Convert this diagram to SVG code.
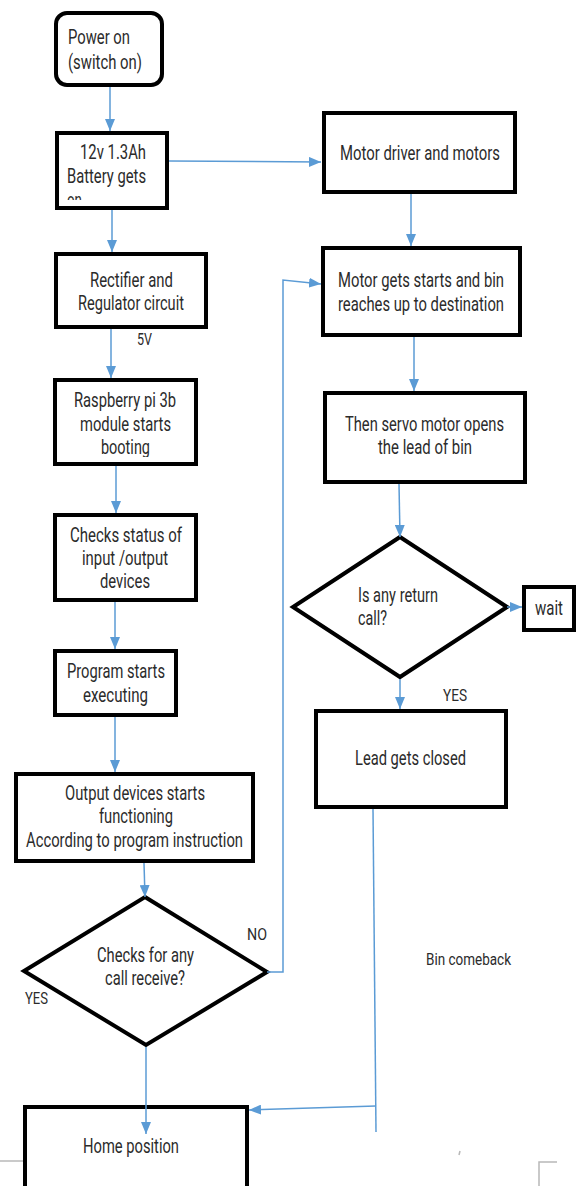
<svg xmlns="http://www.w3.org/2000/svg" width="581" height="1186" viewBox="0 0 581 1186">
<style>
.box{fill:#fff;stroke:#000;stroke-width:4}
.t{font-family:Roboto,"Liberation Sans",sans-serif;font-size:19.5px;fill:#2b2b2b}
.s{font-family:Roboto,"Liberation Sans",sans-serif;font-size:16px;fill:#2b2b2b}
.c{fill:none;stroke:#5b9bd5;stroke-width:1.5}
.a{marker-end:url(#ah)}
.g{fill:none;stroke:#b8b8b8;stroke-width:1.5}
</style>
<defs>
<marker id="ah" viewBox="0 0 12 10" refX="12" refY="5" markerWidth="12" markerHeight="10" markerUnits="userSpaceOnUse" orient="auto">
<path d="M0,0 L12,5 L0,10 z" fill="#5b9bd5"/>
</marker>
<clipPath id="clipBat"><rect x="59" y="135" width="106" height="65"/></clipPath>
<clipPath id="clipRpi"><rect x="57" y="382" width="137" height="75"/></clipPath>
</defs>
<rect width="581" height="1186" fill="#fff"/>

<g id="n-power">
<rect class="box" x="56" y="13" width="106" height="72" rx="11"/>
<text class="t" x="68" y="44" textLength="62" lengthAdjust="spacingAndGlyphs">Power on</text>
<text class="t" x="68" y="69" textLength="74" lengthAdjust="spacingAndGlyphs">(switch on)</text>
</g>

<g id="n-battery">
<rect class="box" x="57" y="133" width="110" height="75"/>
<g clip-path="url(#clipBat)">
<text class="t" x="80" y="159" textLength="66" lengthAdjust="spacingAndGlyphs">12v 1.3Ah</text>
<text class="t" x="67" y="183" textLength="79" lengthAdjust="spacingAndGlyphs">Battery gets</text>
<text class="t" x="67" y="207" textLength="15" lengthAdjust="spacingAndGlyphs">on</text>
</g>
</g>

<g id="n-motordriver">
<rect class="box" x="324" y="113" width="191" height="79"/>
<text class="t" x="340" y="160" textLength="160" lengthAdjust="spacingAndGlyphs">Motor driver and motors</text>
</g>

<g id="n-motorgets">
<rect class="box" x="323" y="248" width="197" height="87"/>
<text class="t" x="338" y="287" textLength="166" lengthAdjust="spacingAndGlyphs">Motor gets starts and bin</text>
<text class="t" x="338" y="311" textLength="166" lengthAdjust="spacingAndGlyphs">reaches up to destination</text>
</g>

<g id="n-rectifier">
<rect class="box" x="56" y="254" width="150" height="73"/>
<text class="t" x="90" y="287" textLength="83" lengthAdjust="spacingAndGlyphs">Rectifier and</text>
<text class="t" x="78" y="310" textLength="106" lengthAdjust="spacingAndGlyphs">Regulator circuit</text>
</g>
<text id="l-5v" class="s" x="137" y="345" textLength="15" lengthAdjust="spacingAndGlyphs">5V</text>

<g id="n-rpi">
<rect class="box" x="55" y="380" width="141" height="84"/>
<g clip-path="url(#clipRpi)">
<text class="t" x="74" y="407" textLength="102" lengthAdjust="spacingAndGlyphs">Raspberry pi 3b</text>
<text class="t" x="80" y="431" textLength="91" lengthAdjust="spacingAndGlyphs">module starts</text>
<text class="t" x="101" y="454" textLength="49" lengthAdjust="spacingAndGlyphs">booting</text>
</g>
</g>

<g id="n-checks">
<rect class="box" x="55" y="515" width="141" height="85"/>
<text class="t" x="70" y="542" textLength="112" lengthAdjust="spacingAndGlyphs">Checks status of</text>
<text class="t" x="82" y="565" textLength="86" lengthAdjust="spacingAndGlyphs">input /output</text>
<text class="t" x="100" y="588" textLength="50" lengthAdjust="spacingAndGlyphs">devices</text>
</g>

<g id="n-program">
<rect class="box" x="55" y="651" width="121" height="64"/>
<text class="t" x="67" y="678" textLength="98" lengthAdjust="spacingAndGlyphs">Program starts</text>
<text class="t" x="83" y="702" textLength="65" lengthAdjust="spacingAndGlyphs">executing</text>
</g>

<g id="n-output">
<rect class="box" x="16" y="774" width="237" height="87"/>
<text class="t" x="65" y="800" textLength="140" lengthAdjust="spacingAndGlyphs">Output devices starts</text>
<text class="t" x="99" y="823" textLength="74" lengthAdjust="spacingAndGlyphs">functioning</text>
<text class="t" x="26" y="847" textLength="217" lengthAdjust="spacingAndGlyphs">According to program instruction</text>
</g>

<g id="n-callcheck">
<polygon class="box" points="145,897 267,972 146,1045 24,971"/>
<text class="t" x="97" y="962" textLength="97" lengthAdjust="spacingAndGlyphs">Checks for any</text>
<text class="t" x="105" y="985" textLength="80" lengthAdjust="spacingAndGlyphs">call receive?</text>
</g>
<text id="l-no" class="s" x="247" y="940" textLength="20" lengthAdjust="spacingAndGlyphs">NO</text>
<text id="l-yes1" class="s" x="25" y="1004" textLength="23" lengthAdjust="spacingAndGlyphs">YES</text>

<g id="n-home">
<rect class="box" x="25" y="1107" width="222" height="100"/>
<text class="t" x="83" y="1153" textLength="96" lengthAdjust="spacingAndGlyphs">Home position</text>
</g>

<g id="n-servo">
<rect class="box" x="325" y="393" width="200" height="89"/>
<text class="t" x="345" y="431" textLength="159" lengthAdjust="spacingAndGlyphs">Then servo motor opens</text>
<text class="t" x="378" y="454" textLength="94" lengthAdjust="spacingAndGlyphs">the lead of bin</text>
</g>

<g id="n-return">
<polygon class="box" points="400,537 507,607 400,677 293,607"/>
<text class="t" x="358" y="602" textLength="80" lengthAdjust="spacingAndGlyphs">Is any return</text>
<text class="t" x="358" y="625" textLength="29" lengthAdjust="spacingAndGlyphs">call?</text>
</g>

<g id="n-wait">
<rect class="box" x="524" y="587" width="50" height="43"/>
<text class="t" x="535" y="615" textLength="28" lengthAdjust="spacingAndGlyphs">wait</text>
</g>
<text id="l-yes2" class="s" x="443" y="701" textLength="24" lengthAdjust="spacingAndGlyphs">YES</text>

<g id="n-lead">
<rect class="box" x="316" y="711" width="190" height="96"/>
<text class="t" x="355" y="765" textLength="111" lengthAdjust="spacingAndGlyphs">Lead gets closed</text>
</g>

<text id="l-bin" class="s" x="426" y="965" textLength="85" lengthAdjust="spacingAndGlyphs">Bin comeback</text>

<g id="connectors">
<path class="c a" d="M110,87 L110,131"/>
<path class="c a" d="M169,161 L321,162"/>
<path class="c a" d="M112,210 L112,252"/>
<path class="c a" d="M111,329 L111,378"/>
<path class="c a" d="M116,466 L116,513"/>
<path class="c a" d="M115,602 L115,649"/>
<path class="c a" d="M115,717 L115,772"/>
<path class="c a" d="M144,863 L145,897"/>
<path class="c a" d="M146,1047 L146,1134"/>
<path class="c a" d="M267,972 L283,972 L283,280 L321,284"/>
<path class="c a" d="M411,194 L411,246"/>
<path class="c a" d="M414,337 L414,391"/>
<path class="c a" d="M399,484 L400,537"/>
<path class="c a" d="M507,607 L522,607"/>
<path class="c a" d="M400,679 L400,709"/>
<path class="c" d="M373,809 L376,1132"/>
<path class="c a" d="M376,1106 L249,1110"/>
</g>

<g id="page-marks">
<path class="g" d="M0,1161 L23,1161"/>
<path class="g" d="M539,1186 L539,1162 L557,1162"/>
<path class="g" d="M460,1151 L459,1155"/>
</g>
</svg>
